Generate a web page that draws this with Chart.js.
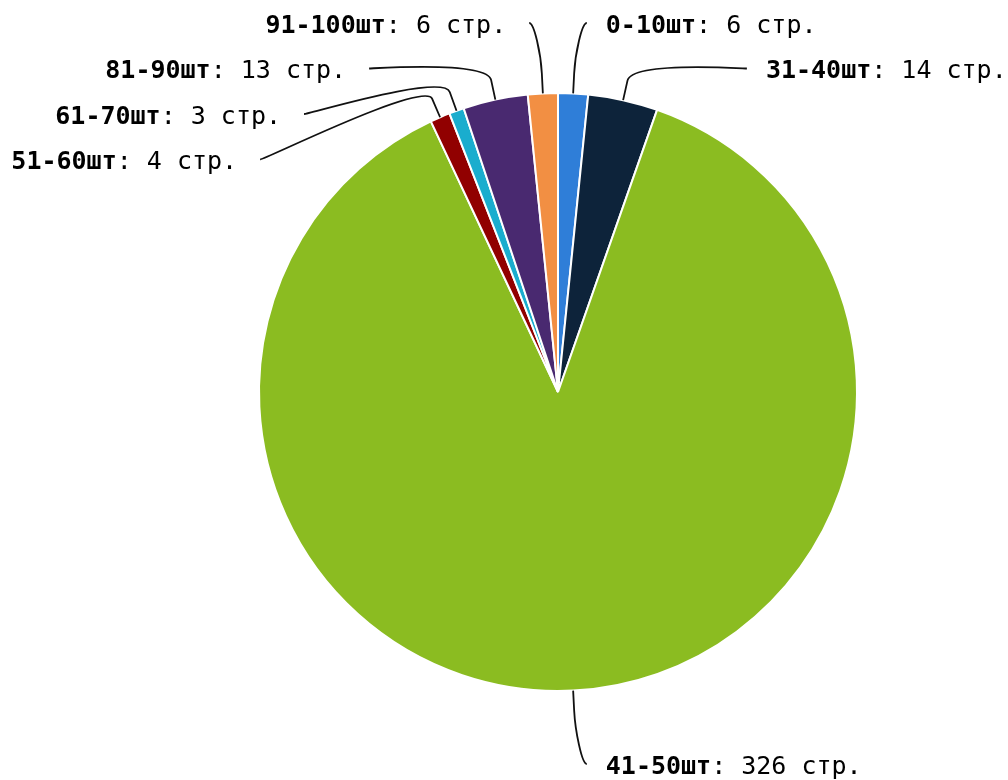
<!DOCTYPE html>
<html>
<head>
<meta charset="utf-8">
<script src="https://cdn.jsdelivr.net/npm/chart.js@4/dist/chart.umd.min.js"></script>
<style>
  html, body { margin: 0; padding: 0; background: #ffffff; }
  #wrap { width: 1008px; height: 780px; position: relative; }
</style>
</head>
<body>
<div id="wrap"><canvas id="c" width="1008" height="780"></canvas></div>
<script>
// ---- data ----
const categories = ['0-10шт', '31-40шт', '41-50шт', '51-60шт', '61-70шт', '81-90шт', '91-100шт'];
const values = [6, 14, 326, 4, 3, 13, 6];
const unitSuffix = 'стр.';
const colors = ['#2f7ed8', '#0d233a', '#8bbc21', '#910000', '#1aadce', '#492970', '#f28f43'];

const FONT_FAMILY = '"DejaVu Sans Mono", monospace';
const FONT_SIZE = 25;

const outLabels = {
  id: 'outLabels',
  afterDatasetsDraw(chart) {
    const ctx = chart.ctx;
    const meta = chart.getDatasetMeta(0);
    const arcs = meta.data;
    if (!arcs.length) return;
    const cx = arcs[0].x, cy = arcs[0].y, r = arcs[0].outerRadius;
    const D = r + 72;      // label ring
    const B = 20;          // break offset outside the pie
    const H = 45.5;        // minimum vertical spacing of labels
    const items = arcs.map((a, i) => {
      const mid = (a.startAngle + a.endAngle) / 2;
      const c = Math.cos(mid), s = Math.sin(mid);
      return {
        i, left: c < 0,
        ny: cy + s * D,
        ex: cx + c * r, ey: cy + s * r,
        bx: cx + c * (r + B), by: cy + s * (r + B)
      };
    });
    [true, false].forEach(side => {
      const list = items.filter(o => o.left === side).sort((a, b) => a.ny - b.ny);
      let prev = -Infinity;
      list.forEach(o => { o.y = Math.max(o.ny, prev + H); prev = o.y; });
    });
    ctx.save();
    items.forEach(o => {
      const dx = Math.sqrt(Math.max(D * D - (o.y - cy) * (o.y - cy), 0)) + 5;
      const x = cx + (o.left ? -dx : dx);
      const y = o.y + 1.5;
      const sgn = o.left ? -1 : 1;
      // connector
      ctx.beginPath();
      ctx.strokeStyle = '#111111';
      ctx.lineWidth = 1.8;
      ctx.lineJoin = 'round';
      ctx.moveTo(x + sgn * 5, y);
      ctx.bezierCurveTo(x, y, 2 * o.bx - o.ex, 2 * o.by - o.ey, o.bx, o.by);
      ctx.lineTo(o.ex, o.ey);
      ctx.stroke();
      // text
      const boldPart = categories[o.i];
      const normPart = ': ' + values[o.i] + ' ' + unitSuffix;
      ctx.textBaseline = 'alphabetic';
      ctx.textAlign = 'left';
      ctx.font = 'bold ' + FONT_SIZE + 'px ' + FONT_FAMILY;
      const wb = ctx.measureText(boldPart).width;
      ctx.font = FONT_SIZE + 'px ' + FONT_FAMILY;
      const wn = ctx.measureText(normPart).width;
      const tx = o.left ? x - 28 - (wb + wn) : x + 24;
      const ty = y + 10;
      ctx.fillStyle = '#000000';
      ctx.font = 'bold ' + FONT_SIZE + 'px ' + FONT_FAMILY;
      ctx.fillText(boldPart, tx, ty);
      ctx.font = FONT_SIZE + 'px ' + FONT_FAMILY;
      ctx.fillText(normPart, tx + wb, ty);
    });
    ctx.restore();
  }
};

new Chart(document.getElementById('c'), {
  type: 'pie',
  data: {
    labels: categories,
    datasets: [{
      data: values,
      backgroundColor: colors,
      borderColor: '#ffffff',
      borderWidth: 2
    }]
  },
  options: {
    responsive: false,
    animation: false,
    layout: { padding: { top: 92, bottom: 88, left: 258, right: 150 } },
    plugins: {
      legend: { display: false },
      tooltip: { enabled: false },
      title: { display: false }
    }
  },
  plugins: [outLabels]
});
</script>
</body>
</html>
